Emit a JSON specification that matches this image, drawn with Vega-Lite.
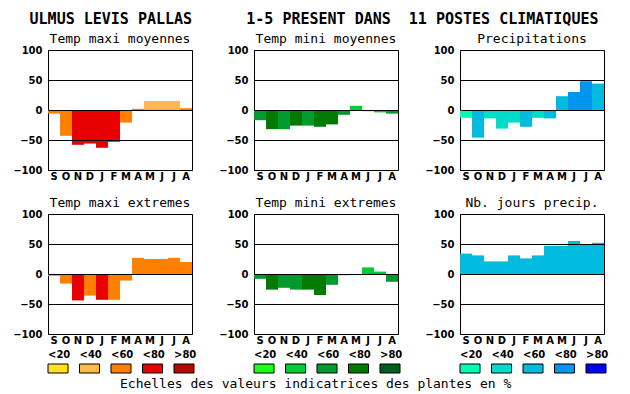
{
  "$schema": "https://vega.github.io/schema/vega-lite/v6.json",
  "background": "white",
  "padding": {"left": 12, "top": 11, "right": 5, "bottom": 3},
  "datasets": {
    "bars": [
      {"p": "maxmoy", "mois": "Sept", "v": -6, "cl": "T3"},
      {"p": "maxmoy", "mois": "Oct", "v": -43, "cl": "T3"},
      {"p": "maxmoy", "mois": "Nov", "v": -58, "cl": "T4"},
      {"p": "maxmoy", "mois": "Déc", "v": -56, "cl": "T4"},
      {"p": "maxmoy", "mois": "Janv", "v": -63, "cl": "T4"},
      {"p": "maxmoy", "mois": "Févr", "v": -53, "cl": "T4"},
      {"p": "maxmoy", "mois": "Mars", "v": -21, "cl": "T3"},
      {"p": "maxmoy", "mois": "Avril", "v": 2, "cl": "T3"},
      {"p": "maxmoy", "mois": "Mai", "v": 15, "cl": "T2"},
      {"p": "maxmoy", "mois": "Juin", "v": 15, "cl": "T2"},
      {"p": "maxmoy", "mois": "Juil", "v": 15, "cl": "T2"},
      {"p": "maxmoy", "mois": "Août", "v": 3, "cl": "T3"},
      {"p": "minmoy", "mois": "Sept", "v": -17, "cl": "G3"},
      {"p": "minmoy", "mois": "Oct", "v": -32, "cl": "G4"},
      {"p": "minmoy", "mois": "Nov", "v": -32, "cl": "G3"},
      {"p": "minmoy", "mois": "Déc", "v": -26, "cl": "G4"},
      {"p": "minmoy", "mois": "Janv", "v": -26, "cl": "G3"},
      {"p": "minmoy", "mois": "Févr", "v": -28, "cl": "G4"},
      {"p": "minmoy", "mois": "Mars", "v": -24, "cl": "G4"},
      {"p": "minmoy", "mois": "Avril", "v": -8, "cl": "G3"},
      {"p": "minmoy", "mois": "Mai", "v": 7, "cl": "G2"},
      {"p": "minmoy", "mois": "Juin", "v": -2, "cl": "G2"},
      {"p": "minmoy", "mois": "Juil", "v": -4, "cl": "G2"},
      {"p": "minmoy", "mois": "Août", "v": -6, "cl": "G3"},
      {"p": "precip", "mois": "Sept", "v": -13, "cl": "P1"},
      {"p": "precip", "mois": "Oct", "v": -46, "cl": "P3"},
      {"p": "precip", "mois": "Nov", "v": -14, "cl": "P2"},
      {"p": "precip", "mois": "Déc", "v": -31, "cl": "P2"},
      {"p": "precip", "mois": "Janv", "v": -21, "cl": "P2"},
      {"p": "precip", "mois": "Févr", "v": -28, "cl": "P3"},
      {"p": "precip", "mois": "Mars", "v": -13, "cl": "P2"},
      {"p": "precip", "mois": "Avril", "v": -14, "cl": "P3"},
      {"p": "precip", "mois": "Mai", "v": 23, "cl": "P3"},
      {"p": "precip", "mois": "Juin", "v": 30, "cl": "P4"},
      {"p": "precip", "mois": "Juil", "v": 48, "cl": "P4"},
      {"p": "precip", "mois": "Août", "v": 44, "cl": "P3"},
      {"p": "maxext", "mois": "Sept", "v": -3, "cl": "T3"},
      {"p": "maxext", "mois": "Oct", "v": -16, "cl": "T3"},
      {"p": "maxext", "mois": "Nov", "v": -44, "cl": "T4"},
      {"p": "maxext", "mois": "Déc", "v": -36, "cl": "T3"},
      {"p": "maxext", "mois": "Janv", "v": -43, "cl": "T4"},
      {"p": "maxext", "mois": "Févr", "v": -43, "cl": "T3"},
      {"p": "maxext", "mois": "Mars", "v": -11, "cl": "T3"},
      {"p": "maxext", "mois": "Avril", "v": 27, "cl": "T3"},
      {"p": "maxext", "mois": "Mai", "v": 25, "cl": "T3"},
      {"p": "maxext", "mois": "Juin", "v": 25, "cl": "T3"},
      {"p": "maxext", "mois": "Juil", "v": 27, "cl": "T3"},
      {"p": "maxext", "mois": "Août", "v": 20, "cl": "T3"},
      {"p": "minext", "mois": "Sept", "v": -8, "cl": "G3"},
      {"p": "minext", "mois": "Oct", "v": -26, "cl": "G4"},
      {"p": "minext", "mois": "Nov", "v": -23, "cl": "G3"},
      {"p": "minext", "mois": "Déc", "v": -26, "cl": "G3"},
      {"p": "minext", "mois": "Janv", "v": -26, "cl": "G4"},
      {"p": "minext", "mois": "Févr", "v": -35, "cl": "G4"},
      {"p": "minext", "mois": "Mars", "v": -18, "cl": "G3"},
      {"p": "minext", "mois": "Avril", "v": -2, "cl": "G3"},
      {"p": "minext", "mois": "Mai", "v": 0, "cl": "G3"},
      {"p": "minext", "mois": "Juin", "v": 11, "cl": "G2"},
      {"p": "minext", "mois": "Juil", "v": 4, "cl": "G2"},
      {"p": "minext", "mois": "Août", "v": -13, "cl": "G3"},
      {"p": "nbj", "mois": "Sept", "v": 34, "cl": "P3"},
      {"p": "nbj", "mois": "Oct", "v": 31, "cl": "P3"},
      {"p": "nbj", "mois": "Nov", "v": 21, "cl": "P3"},
      {"p": "nbj", "mois": "Déc", "v": 21, "cl": "P3"},
      {"p": "nbj", "mois": "Janv", "v": 31, "cl": "P3"},
      {"p": "nbj", "mois": "Févr", "v": 26, "cl": "P3"},
      {"p": "nbj", "mois": "Mars", "v": 31, "cl": "P3"},
      {"p": "nbj", "mois": "Avril", "v": 47, "cl": "P3"},
      {"p": "nbj", "mois": "Mai", "v": 47, "cl": "P3"},
      {"p": "nbj", "mois": "Juin", "v": 55, "cl": "P3"},
      {"p": "nbj", "mois": "Juil", "v": 50, "cl": "P3"},
      {"p": "nbj", "mois": "Août", "v": 52, "cl": "P3"}
    ],
    "leg": [
      {"g": "T", "label": "<20", "cl": "T1"},
      {"g": "T", "label": "<40", "cl": "T2"},
      {"g": "T", "label": "<60", "cl": "T3"},
      {"g": "T", "label": "<80", "cl": "T4"},
      {"g": "T", "label": ">80", "cl": "T5"},
      {"g": "G", "label": "<20", "cl": "G1"},
      {"g": "G", "label": "<40", "cl": "G2"},
      {"g": "G", "label": "<60", "cl": "G3"},
      {"g": "G", "label": "<80", "cl": "G4"},
      {"g": "G", "label": ">80", "cl": "G5"},
      {"g": "P", "label": "<20", "cl": "P1"},
      {"g": "P", "label": "<40", "cl": "P2"},
      {"g": "P", "label": "<60", "cl": "P3"},
      {"g": "P", "label": "<80", "cl": "P4"},
      {"g": "P", "label": ">80", "cl": "P5"}
    ]
  },
  "title": {
    "text": "ULMUS LEVIS PALLAS\u00a0\u00a0\u00a0\u00a0\u00a0\u00a01-5 PRESENT DANS\u00a0\u00a011 POSTES CLIMATIQUES",
    "font": "DejaVu Sans Mono",
    "fontSize": 15,
    "fontWeight": "bold",
    "color": "black",
    "anchor": "middle",
    "offset": 6,
    "dx": 4
  },
  "config": {
    "view": {"stroke": "black", "strokeWidth": 1},
    "axis": {
      "labelFont": "DejaVu Sans",
      "labelFontWeight": "bold",
      "labelFontSize": 10,
      "labelColor": "black",
      "ticks": false,
      "domain": false,
      "grid": false,
      "title": null
    },
    "axisX": {
      "labelAngle": 0,
      "labelPadding": 1,
      "labelExpr": "upper(substring(datum.value,0,1))"
    },
    "axisQuantitative": {
      "values": [-100, -50, 0, 50, 100],
      "grid": true,
      "gridColor": "black",
      "gridOpacity": 1,
      "gridWidth": 1,
      "labelPadding": 6,
      "zindex": 1
    },
    "title": {
      "font": "DejaVu Sans Mono",
      "fontSize": 13,
      "fontWeight": "normal",
      "color": "black",
      "offset": -1
    }
  },
  "vconcat": [
    {
      "vconcat": [
        {
          "hconcat": [
            {
              "width": 144, "height": 120,
              "title": "Temp maxi moyennes",
              "data": {"name": "bars"},
              "transform": [{"filter": "datum.p == 'maxmoy'"}],
              "mark": "bar",
              "encoding": {
                "x": {"field": "mois", "type": "ordinal", "sort": ["Sept","Oct","Nov","Déc","Janv","Févr","Mars","Avril","Mai","Juin","Juil","Août"], "scale": {"paddingInner": 0, "paddingOuter": 0}},
                "y": {"field": "v", "type": "quantitative", "scale": {"domain": [-100, 100], "nice": false}},
                "color": {"field": "cl", "type": "nominal", "legend": null, "scale": {"domain": ["T1","T2","T3","T4","T5","G1","G2","G3","G4","G5","P1","P2","P3","P4","P5"], "range": ["#fde41b","#ffb94f","#ff8000","#e80000","#b00f00","#1aff1a","#00cc33","#009a2e","#007a00","#006020","#00ffb0","#00dcc8","#00bbdd","#0095ee","#0000ff"]}}
              }
            },
            {
              "width": 144, "height": 120,
              "title": "Temp mini moyennes",
              "data": {"name": "bars"},
              "transform": [{"filter": "datum.p == 'minmoy'"}],
              "mark": "bar",
              "encoding": {
                "x": {"field": "mois", "type": "ordinal", "sort": ["Sept","Oct","Nov","Déc","Janv","Févr","Mars","Avril","Mai","Juin","Juil","Août"], "scale": {"paddingInner": 0, "paddingOuter": 0}},
                "y": {"field": "v", "type": "quantitative", "scale": {"domain": [-100, 100], "nice": false}},
                "color": {"field": "cl", "type": "nominal", "legend": null}
              }
            },
            {
              "width": 144, "height": 120,
              "title": "Precipitations",
              "data": {"name": "bars"},
              "transform": [{"filter": "datum.p == 'precip'"}],
              "mark": "bar",
              "encoding": {
                "x": {"field": "mois", "type": "ordinal", "sort": ["Sept","Oct","Nov","Déc","Janv","Févr","Mars","Avril","Mai","Juin","Juil","Août"], "scale": {"paddingInner": 0, "paddingOuter": 0}},
                "y": {"field": "v", "type": "quantitative", "scale": {"domain": [-100, 100], "nice": false}},
                "color": {"field": "cl", "type": "nominal", "legend": null}
              }
            }
          ],
          "spacing": 62,
          "bounds": "flush"
        },
        {
          "hconcat": [
            {
              "width": 144, "height": 120,
              "title": "Temp maxi extremes",
              "data": {"name": "bars"},
              "transform": [{"filter": "datum.p == 'maxext'"}],
              "mark": "bar",
              "encoding": {
                "x": {"field": "mois", "type": "ordinal", "sort": ["Sept","Oct","Nov","Déc","Janv","Févr","Mars","Avril","Mai","Juin","Juil","Août"], "scale": {"paddingInner": 0, "paddingOuter": 0}},
                "y": {"field": "v", "type": "quantitative", "scale": {"domain": [-100, 100], "nice": false}},
                "color": {"field": "cl", "type": "nominal", "legend": null}
              }
            },
            {
              "width": 144, "height": 120,
              "title": "Temp mini extremes",
              "data": {"name": "bars"},
              "transform": [{"filter": "datum.p == 'minext'"}],
              "mark": "bar",
              "encoding": {
                "x": {"field": "mois", "type": "ordinal", "sort": ["Sept","Oct","Nov","Déc","Janv","Févr","Mars","Avril","Mai","Juin","Juil","Août"], "scale": {"paddingInner": 0, "paddingOuter": 0}},
                "y": {"field": "v", "type": "quantitative", "scale": {"domain": [-100, 100], "nice": false}},
                "color": {"field": "cl", "type": "nominal", "legend": null}
              }
            },
            {
              "width": 144, "height": 120,
              "title": "Nb. jours precip.",
              "data": {"name": "bars"},
              "transform": [{"filter": "datum.p == 'nbj'"}],
              "mark": "bar",
              "encoding": {
                "x": {"field": "mois", "type": "ordinal", "sort": ["Sept","Oct","Nov","Déc","Janv","Févr","Mars","Avril","Mai","Juin","Juil","Août"], "scale": {"paddingInner": 0, "paddingOuter": 0}},
                "y": {"field": "v", "type": "quantitative", "scale": {"domain": [-100, 100], "nice": false}},
                "color": {"field": "cl", "type": "nominal", "legend": null}
              }
            }
          ],
          "spacing": 62,
          "bounds": "flush"
        }
      ],
      "spacing": 14
    },
    {
      "hconcat": [
        {
          "width": 146, "height": 9,
          "view": {"stroke": null},
          "data": {"name": "leg"},
          "transform": [{"filter": "datum.g == 'T'"}],
          "mark": {"type": "bar", "stroke": "black", "strokeWidth": 1},
          "encoding": {
            "x": {"field": "label", "type": "ordinal", "sort": ["<20","<40","<60","<80",">80"], "scale": {"paddingInner": 0.365, "paddingOuter": 0}, "axis": {"orient": "top", "labelAlign": "left", "labelOffset": -10, "labelPadding": 5, "labelExpr": "datum.value"}},
            "color": {"field": "cl", "type": "nominal", "legend": null}
          }
        },
        {
          "width": 146, "height": 9,
          "view": {"stroke": null},
          "data": {"name": "leg"},
          "transform": [{"filter": "datum.g == 'G'"}],
          "mark": {"type": "bar", "stroke": "black", "strokeWidth": 1},
          "encoding": {
            "x": {"field": "label", "type": "ordinal", "sort": ["<20","<40","<60","<80",">80"], "scale": {"paddingInner": 0.365, "paddingOuter": 0}, "axis": {"orient": "top", "labelAlign": "left", "labelOffset": -10, "labelPadding": 5, "labelExpr": "datum.value"}},
            "color": {"field": "cl", "type": "nominal", "legend": null}
          }
        },
        {
          "width": 146, "height": 9,
          "view": {"stroke": null},
          "data": {"name": "leg"},
          "transform": [{"filter": "datum.g == 'P'"}],
          "mark": {"type": "bar", "stroke": "black", "strokeWidth": 1},
          "encoding": {
            "x": {"field": "label", "type": "ordinal", "sort": ["<20","<40","<60","<80",">80"], "scale": {"paddingInner": 0.365, "paddingOuter": 0}, "axis": {"orient": "top", "labelAlign": "left", "labelOffset": -10, "labelPadding": 5, "labelExpr": "datum.value"}},
            "color": {"field": "cl", "type": "nominal", "legend": null}
          }
        }
      ],
      "spacing": 60,
      "bounds": "flush",
      "title": {"text": "Echelles des valeurs indicatrices des plantes en %", "orient": "bottom", "anchor": "middle", "offset": 4, "dx": -12}
    }
  ],
  "spacing": 3
}
